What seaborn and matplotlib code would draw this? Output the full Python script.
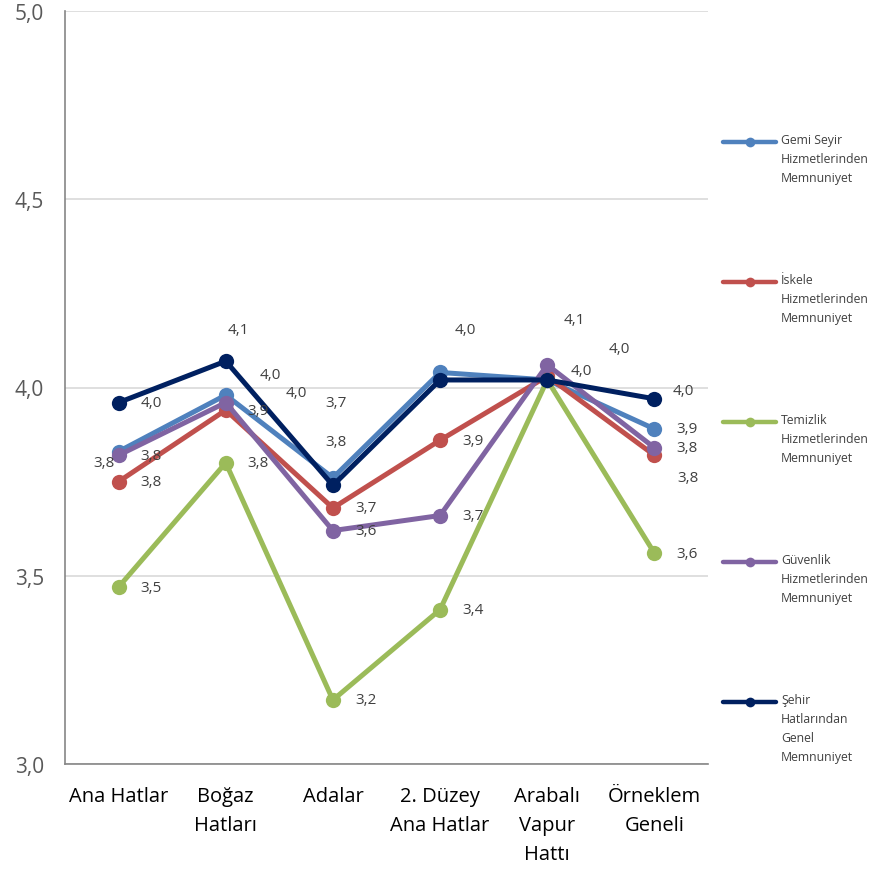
import matplotlib
matplotlib.use("Agg")
import matplotlib.pyplot as plt
from matplotlib.lines import Line2D
import seaborn as sns
import pandas as pd
import numpy as np

categories = ["Ana Hatlar", "Boğaz\nHatları", "Adalar", "2. Düzey\nAna Hatlar",
              "Arabalı\nVapur\nHattı", "Örneklem\nGeneli"]
series_names = ["Gemi Seyir\nHizmetlerinden\nMemnuniyet",
                "İskele\nHizmetlerinden\nMemnuniyet",
                "Temizlik\nHizmetlerinden\nMemnuniyet",
                "Güvenlik\nHizmetlerinden\nMemnuniyet",
                "Şehir\nHatlarından\nGenel\nMemnuniyet"]
gemi = [3.83, 3.98, 3.76, 4.04, 4.02, 3.89]
iskele = [3.75, 3.94, 3.68, 3.86, 4.03, 3.82]
temizlik = [3.47, 3.80, 3.17, 3.41, 4.02, 3.56]
guvenlik = [3.82, 3.96, 3.62, 3.66, 4.06, 3.84]
sehir = [3.96, 4.07, 3.74, 4.02, 4.02, 3.97]
y_ticks = [3.0, 3.5, 4.0, 4.5, 5.0]
y_tick_labels = ["3,0", "3,5", "4,0", "4,5", "5,0"]

colors = ["#4F81BD", "#C0504D", "#9BBB59", "#8064A2", "#002060"]
values = [gemi, iskele, temizlik, guvenlik, sehir]

# label offsets in pixels (None = label hidden); default is right of point
D = (22, 0)
label_offsets = [
    [(-25, -11), (34, 21), (-8, 36), (15, 43), None, D],      # gemi
    [D, D, D, D, (23, 6), (23, -22)],                       # iskele
    [D, D, D, D, None, D],                                    # temizlik
    [D, (60, 10), D, D, (16, 45), D],                         # guvenlik
    [D, (2, 32), (-8, 83), None, (61, 31), (18, 8)],          # sehir
]

rows = []
for name, vals in zip(series_names, values):
    for i, v in enumerate(vals):
        rows.append({"pos": i, "value": v, "series": name})
df = pd.DataFrame(rows)

sns.set_theme(style="white")
plt.rcParams["font.family"] = ["Open Sans", "DejaVu Sans"]

fig = plt.figure(figsize=(8.84, 8.70), dpi=100)
ax = fig.add_axes([65 / 884, 1 - 765 / 870, (708 - 65) / 884, (765 - 12) / 870])

sns.lineplot(data=df, x="pos", y="value", hue="series", hue_order=series_names,
             palette=colors, marker="o", markersize=11, markeredgewidth=0,
             linewidth=3.6, legend=False, ax=ax, zorder=3)

for s, (vals, offs) in enumerate(zip(values, label_offsets)):
    for i, (v, off) in enumerate(zip(vals, offs)):
        if off is None:
            continue
        ax.annotate(f"{v:.1f}".replace(".", ","), (i, v), xytext=off,
                    textcoords="offset pixels", ha="left", va="center",
                    fontsize=11, color="#404040", zorder=5)

ax.set_xlim(-0.5, 5.5)
ax.set_ylim(3.0, 5.0)
ax.set_yticks(y_ticks)
ax.set_yticklabels(y_tick_labels, fontsize=15, color="#595959")
ax.set_xticks(range(len(categories)))
ax.set_xticklabels(categories, fontsize=14.5, color="#000000", linespacing=1.58,
                   va="top")
ax.set_xticks(np.arange(-0.5, 6.0, 1.0), minor=True)
ax.tick_params(axis="x", which="major", length=0, pad=16)
ax.tick_params(axis="x", which="minor", length=8, direction="in", color="#868686", width=1.2)
ax.tick_params(axis="y", length=0, pad=15)
ax.grid(axis="y", color="#D9D9D9", linewidth=1.2)
ax.set_axisbelow(True)
ax.set_xlabel("")
ax.set_ylabel("")
for side in ["top", "right"]:
    ax.spines[side].set_visible(False)
for side in ["left", "bottom"]:
    ax.spines[side].set_color("#868686")
    ax.spines[side].set_linewidth(1.2)

# legend drawn manually on the right
for k, (name, c) in enumerate(zip(series_names, colors)):
    ypix = 143 + k * 140
    yf = 1 - ypix / 870
    x0, x1 = 723 / 884, 776 / 884
    fig.add_artist(Line2D([x0, (x0 + x1) / 2, x1], [yf, yf, yf], color=c, lw=3.2,
                          marker="o", markersize=7, markevery=[1],
                          markeredgewidth=0, transform=fig.transFigure))
    fig.text(781 / 884, 1 - (ypix - 9) / 870, name, ha="left", va="top", fontsize=8.8,
             color="#404040", linespacing=1.6, transform=fig.transFigure)

fig.savefig("out.png", dpi=100)
